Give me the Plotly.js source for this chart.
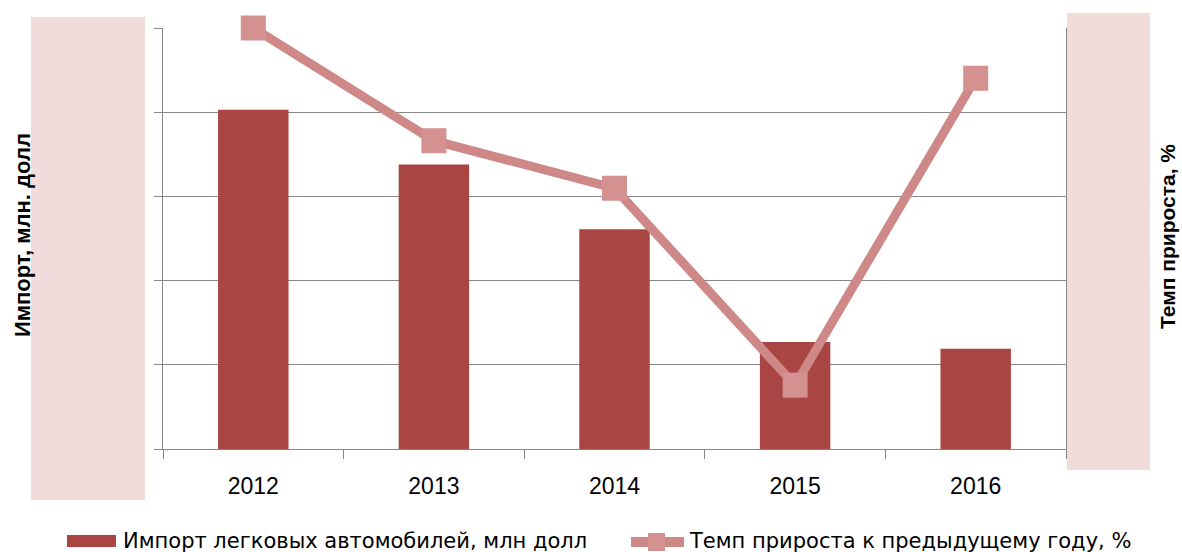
<!DOCTYPE html>
<html>
<head>
<meta charset="utf-8">
<script src="https://cdn.plot.ly/plotly-3.0.1.min.js"></script>
<style>html,body{margin:0;padding:0;background:#fff;}#chart{width:1182px;height:552px;}</style>
</head>
<body>
<div id="chart"></div>
<script>
// ---- data ----
const years = ["2012", "2013", "2014", "2015", "2016"];
const importValues = [20150, 16900, 13050, 6350, 5950];      // млн долл (estimated)
const growthValues = [2.0, -14.6, -21.6, -50.6, -5.4];        // % (estimated)
const seriesNames = ["Импорт легковых автомобилей, млн долл", "Темп прироста к предыдущему году, %"];
const axisTitles = ["Импорт, млн. долл", "Темп прироста, %"];

// ---- layout helpers (pixel -> paper) ----
const L = 163, R = 1066, T = 28, B = 449;
const W = R - L, H = B - T;
const px = x => (x - L) / W;
const py = y => (B - y) / H;

const FONT = "Liberation Sans, Arial, sans-serif";
const LEGFONT = "DejaVu Sans, Liberation Sans, sans-serif";
const GRID = "#868686";
const BAR = "#A94543";
const LINE = "#CD8887";
const MARK = "#D39190";
const PINK = "#F2DCDB";

const traces = [
  {
    type: "bar", x: years, y: importValues, name: seriesNames[0],
    width: 0.39, marker: {color: BAR}, showlegend: false, hoverinfo: "x+y"
  },
  {
    type: "scatter", mode: "lines+markers", x: years, y: growthValues, yaxis: "y2",
    name: seriesNames[1], cliponaxis: false, showlegend: false,
    line: {color: LINE, width: 9},
    marker: {symbol: "square", size: 25, color: MARK}
  }
];

const layout = {
  width: 1182, height: 552,
  margin: {l: L, r: 1182 - R, t: T, b: 552 - B},
  paper_bgcolor: "#fff", plot_bgcolor: "#fff",
  font: {family: FONT, color: "#000"},
  showlegend: false,
  xaxis: {
    type: "category", tickson: "boundaries", ticks: "outside", ticklen: 9,
    tickcolor: GRID, showline: true, linecolor: GRID, linewidth: 1,
    showgrid: false, tickfont: {size: 23, family: FONT}, ticklabelstandoff: 16
  },
  yaxis: {
    range: [0, 25000], dtick: 5000, showticklabels: false,
    ticks: "outside", ticklen: 8, tickcolor: GRID,
    showline: true, linecolor: GRID, gridcolor: GRID, gridwidth: 1, zeroline: false
  },
  yaxis2: {
    range: [-60, 2], overlaying: "y", side: "right", showgrid: false,
    showticklabels: false, ticks: "", showline: true, linecolor: GRID, zeroline: false
  },
  shapes: [
    {type: "rect", xref: "paper", yref: "paper", x0: px(31), x1: px(145), y0: py(17), y1: py(500),
     fillcolor: PINK, line: {width: 0}, layer: "above"},
    {type: "rect", xref: "paper", yref: "paper", x0: px(1067), x1: px(1150), y0: py(13), y1: py(470),
     fillcolor: PINK, line: {width: 0}, layer: "above"},
    // legend keys
    {type: "rect", xref: "paper", yref: "paper", x0: px(67), x1: px(116), y0: py(535), y1: py(547),
     fillcolor: BAR, line: {width: 0}},
    {type: "line", xref: "paper", yref: "paper", x0: px(631), x1: px(684), y0: py(542), y1: py(542),
     line: {color: LINE, width: 10}},
    {type: "rect", xref: "paper", yref: "paper", x0: px(648), x1: px(665), y0: py(533), y1: py(551),
     fillcolor: MARK, line: {width: 0}}
  ],
  annotations: [
    {xref: "paper", yref: "paper", x: px(22), y: py(235), text: "<b>" + axisTitles[0] + "</b>",
     textangle: -90, showarrow: false, font: {size: 22, family: FONT, color: "#000"},
     xanchor: "center", yanchor: "middle"},
    {xref: "paper", yref: "paper", x: px(1167), y: py(237), text: "<b>" + axisTitles[1] + "</b>",
     textangle: -90, showarrow: false, font: {size: 21, family: FONT, color: "#000"},
     xanchor: "center", yanchor: "middle"},
    {xref: "paper", yref: "paper", x: px(121), y: py(541), text: seriesNames[0],
     showarrow: false, xanchor: "left", yanchor: "middle", font: {size: 21, family: LEGFONT, color: "#000"}},
    {xref: "paper", yref: "paper", x: px(687), y: py(541), text: seriesNames[1],
     showarrow: false, xanchor: "left", yanchor: "middle", font: {size: 21, family: LEGFONT, color: "#000"}}
  ]
};

Plotly.newPlot("chart", traces, layout, {displayModeBar: false, staticPlot: true});
</script>
</body>
</html>
